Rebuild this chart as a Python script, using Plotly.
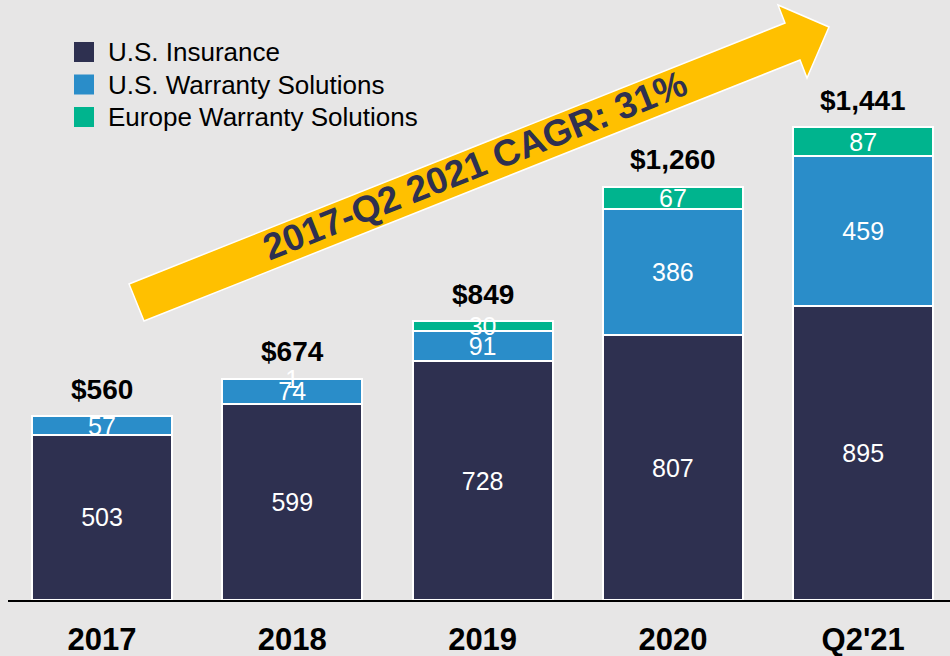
import plotly.graph_objects as go

categories = ["2017", "2018", "2019", "2020", "Q2'21"]
us_insurance = [503, 599, 728, 807, 895]
us_warranty = [57, 74, 91, 386, 459]
europe_warranty = [0, 1, 30, 67, 87]
totals = [560, 674, 849, 1260, 1441]
total_labels = ["$560", "$674", "$849", "$1,260", "$1,441"]
series_names = ["U.S. Insurance", "U.S. Warranty Solutions", "Europe Warranty Solutions"]
cagr_text = "2017-Q2 2021 CAGR: 31%"

NAVY = "#2e3050"
BLUE = "#2a8dc9"
GREEN = "#00b48e"
YELLOW = "#ffc000"
BG = "#e7e6e6"
FONT = "Liberation Sans, Arial, sans-serif"
COLORS = [NAVY, BLUE, GREEN]

W, H = 950, 656
ML, MR, MT, MB = 8, 0, 0, 56
PW, PH = W - ML - MR, H - MT - MB


def px(x):
    return (x - ML) / PW


def py(y):
    return (H - MB - y) / PH


def labels(vals):
    return [str(v) if v else "" for v in vals]


fig = go.Figure()
for name, vals, col in zip(series_names, [us_insurance, us_warranty, europe_warranty], COLORS):
    fig.add_trace(go.Bar(
        x=categories, y=vals, name=name,
        marker=dict(color=col, line=dict(color="white", width=2)),
        text=labels(vals), textposition="inside", insidetextanchor="middle",
        textangle=0, constraintext="none", cliponaxis=False,
        textfont=dict(family=FONT, size=25, color="white"),
        width=0.736, showlegend=False,
    ))

for i, (t, lab) in enumerate(zip(totals, total_labels)):
    fig.add_annotation(x=i, y=t, text=f"<b>{lab}</b>", showarrow=False, yanchor="middle",
                       yshift=27, font=dict(family=FONT, size=28, color="black"))

# legend (drawn as key squares + labels)
for k, (name, col) in enumerate(zip(series_names, COLORS)):
    yc = 52 + k * 32.5
    fig.add_shape(type="rect", xref="paper", yref="paper",
                  x0=px(74), x1=px(94), y0=py(yc - 10), y1=py(yc + 10),
                  fillcolor=col, line=dict(width=0))
    fig.add_annotation(xref="paper", yref="paper", x=px(106), y=py(yc), text=name,
                       showarrow=False, xanchor="left", yanchor="middle",
                       font=dict(family=FONT, size=26, color="black"))

# growth arrow (decoration)
pts = [(129, 284), (785, 23), (778, 5), (829, 27), (807, 78), (800, 60), (144, 321)]
path = "M " + " L ".join(f"{px(a):.5f},{py(b):.5f}" for a, b in pts) + " Z"
fig.add_shape(type="path", xref="paper", yref="paper", path=path,
              fillcolor=YELLOW, line=dict(color="white", width=1.5), layer="above")
fig.add_annotation(xref="paper", yref="paper", x=px(475), y=py(166), text=f"<b>{cagr_text}</b>",
                   showarrow=False, textangle=-21.7, xanchor="center", yanchor="middle",
                   font=dict(family=FONT, size=37, color=NAVY))

fig.update_layout(
    width=W, height=H, barmode="stack",
    margin=dict(l=ML, r=MR, t=MT, b=MB, autoexpand=False),
    paper_bgcolor=BG, plot_bgcolor=BG,
    font=dict(family=FONT, color="black"),
    showlegend=False,
    xaxis=dict(type="category", range=[-0.494, 4.456], showgrid=False, showline=True,
               linecolor="black", linewidth=2, ticks="outside", ticklen=11,
               tickcolor="rgba(0,0,0,0)", automargin=False,
               tickfont=dict(family=FONT, size=31, color="black"),
               tickprefix="<b>", ticksuffix="</b>", fixedrange=True),
    yaxis=dict(range=[0, 1829], visible=False, fixedrange=True, automargin=False),
)

fig.write_html("out.html", config={"displayModeBar": False},
               post_script="document.body.style.margin='0';document.body.style.padding='0';")
